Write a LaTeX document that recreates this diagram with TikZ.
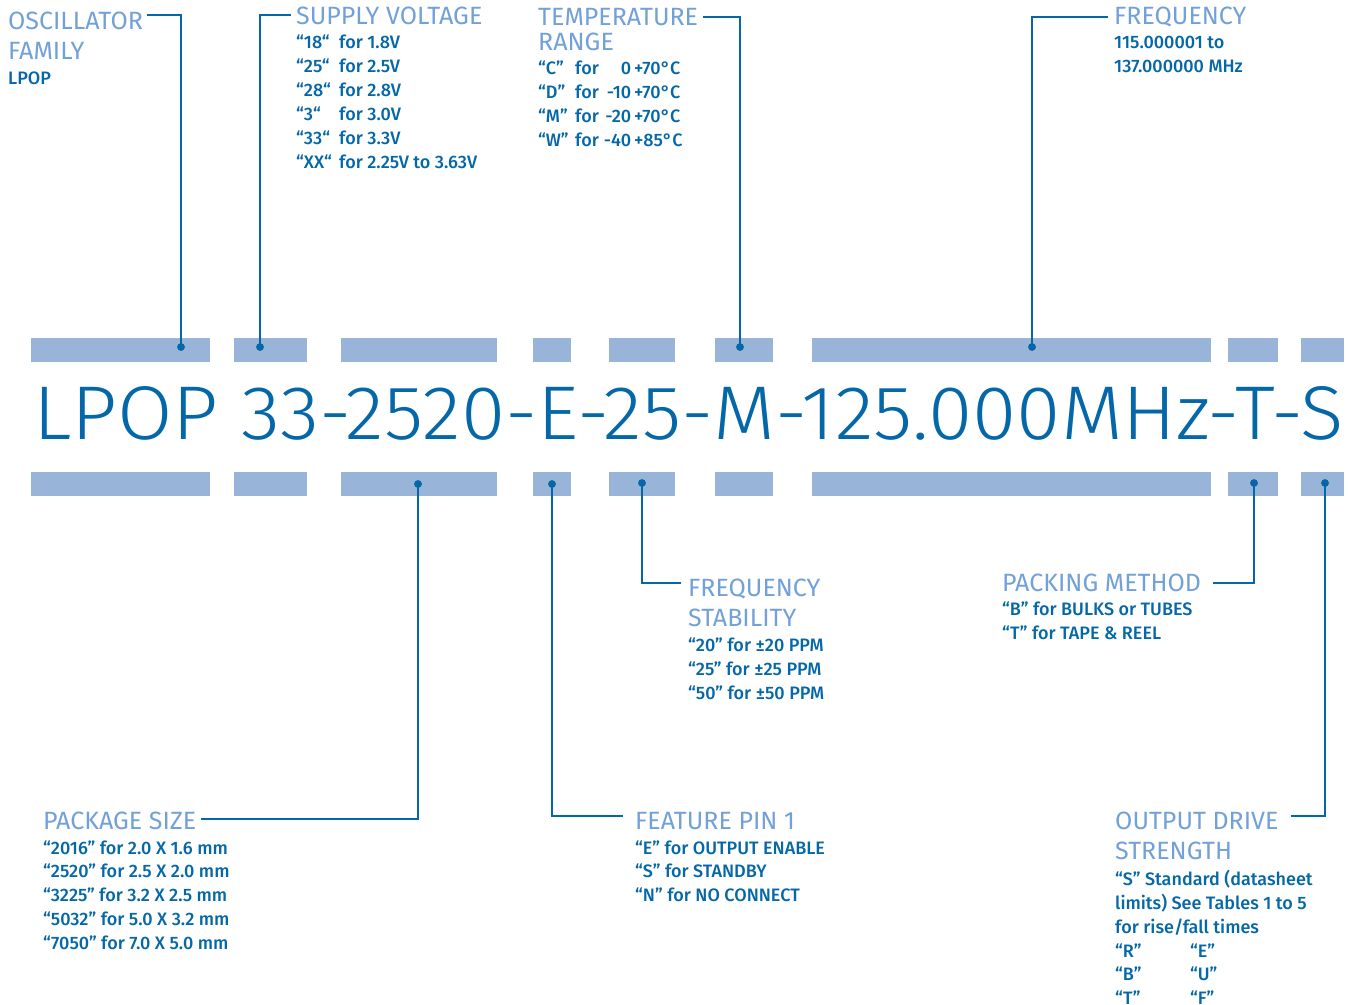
\documentclass[tikz,border=0pt]{standalone}
\usepackage{fontspec}
\setmainfont{Fira Sans}
\newfontfamily\hdf{Fira Sans}
\IfFontExistsTF{Fira Sans Medium}{\newfontfamily\bdf{Fira Sans Medium}}{\newfontfamily\bdf{Fira Sans}}
\IfFontExistsTF{Fira Sans Light}{\newfontfamily\codef{Fira Sans Light}}{\newfontfamily\codef{Fira Sans}}
\definecolor{dk}{HTML}{0467A8}
\definecolor{hdc}{HTML}{72A0D8}
\definecolor{barc}{HTML}{98B4D8}
\begin{document}
\begin{tikzpicture}[x=1pt,y=-1pt,
  hd/.style={font=\hdf\fontsize{25}{30}\selectfont, text=hdc, inner sep=0pt, anchor=base west},
  bd/.style={font=\bdf\fontsize{18}{22}\selectfont, text=dk, inner sep=0pt, anchor=base west},
  conn/.style={draw=dk, line width=2.6pt},
  dot/.style={circle, fill=dk, inner sep=0pt, minimum size=7.5pt}]
\useasboundingbox[fill=white] (0,0) rectangle (1348,1004);
% bars
\foreach \a/\b in {31/210,234/307,341/497,533/571,609/675,715/773,812/1211,1228/1278,1301/1344}{
  \fill[barc] (\a,338) rectangle (\b,362);
  \fill[barc] (\a,472) rectangle (\b,496);
}
% code
\node[inner sep=0pt, anchor=base west, text=dk] (code) at (33,439)
  {\resizebox{1310pt}{53pt}{\codef LPOP 33-2520-E-25-M-125.000MHz-T-S}};
% top left: oscillator family
\node[hd] (oscT) at (8,29) {OSCILLATOR};
\node[hd] (oscT2) at (8,59.5) {FAMILY};
\node[bd] (oscB1) at (8,84.5) {LPOP};
% supply voltage
\node[hd] (supT) at (296,24.5) {SUPPLY VOLTAGE};
\node[bd] (supB1) at (296,48.5) {\makebox[43pt][l]{“18“}for 1.8V};
\node[bd] (supB2) at (296,72.5) {\makebox[43pt][l]{“25“}for 2.5V};
\node[bd] (supB3) at (296,96.5) {\makebox[43pt][l]{“28“}for 2.8V};
\node[bd] (supB4) at (296,120.5) {\makebox[43pt][l]{“3“}for 3.0V};
\node[bd] (supB5) at (296,144.5) {\makebox[43pt][l]{“33“}for 3.3V};
\node[bd] (supB6) at (296,168) {\makebox[43pt][l]{“XX“}for 2.25V to 3.63V};
% temperature
\node[hd] (tmpT) at (538,25) {TEMPERATURE};
\node[hd] (tmpT2) at (538,50) {RANGE};
\node[bd] (tmpB1) at (538,74) {\makebox[37pt][l]{“C”}\makebox[56pt][l]{for\hfill 0}\,+70°C};
\node[bd] (tmpB2) at (538,98) {\makebox[37pt][l]{“D”}\makebox[56pt][l]{for\hfill -10}\,+70°C};
\node[bd] (tmpB3) at (538,122) {\makebox[37pt][l]{“M”}\makebox[56pt][l]{for\hfill -20}\,+70°C};
\node[bd] (tmpB4) at (538,146) {\makebox[37pt][l]{“W”}\makebox[56pt][l]{for\hfill -40}\,+85°C};
% frequency
\node[hd] (frqT) at (1114,24.5) {FREQUENCY};
\node[bd] (frqB1) at (1114,48) {115.000001 to};
\node[bd] (frqB2) at (1114,72) {137.000000 MHz};
% frequency stability
\node[hd] (stbT) at (688,596) {FREQUENCY};
\node[hd] (stbT2) at (688,626.5) {STABILITY};
\node[bd] (stbB1) at (688,651.5) {“20” for ±20 PPM};
\node[bd] (stbB2) at (688,675.5) {“25” for ±25 PPM};
\node[bd] (stbB3) at (688,699) {“50” for ±50 PPM};
% packing method
\node[hd] (pckT) at (1002,591) {PACKING METHOD};
\node[bd] (pckB1) at (1002,615) {“B” for BULKS or TUBES};
\node[bd] (pckB2) at (1002,639.5) {“T” for TAPE \& REEL};
% package size
\node[hd] (pkgT) at (43,829.5) {PACKAGE SIZE};
\node[bd] (pkgB1) at (43,854) {“2016” for 2.0 X 1.6 mm};
\node[bd] (pkgB2) at (43,877.5) {“2520” for 2.5 X 2.0 mm};
\node[bd] (pkgB3) at (43,901.5) {“3225” for 3.2 X 2.5 mm};
\node[bd] (pkgB4) at (43,925.5) {“5032” for 5.0 X 3.2 mm};
\node[bd] (pkgB5) at (43,949.5) {“7050” for 7.0 X 5.0 mm};
% feature pin
\node[hd] (feaT) at (635,829.5) {FEATURE PIN 1};
\node[bd] (feaB1) at (635,854) {“E” for OUTPUT ENABLE};
\node[bd] (feaB2) at (635,877.5) {“S” for STANDBY};
\node[bd] (feaB3) at (635,901.5) {“N” for NO CONNECT};
% output drive
\node[hd] (outT) at (1115,829.5) {OUTPUT DRIVE};
\node[hd] (outT2) at (1115,859.5) {STRENGTH};
\node[bd] (outB1) at (1115,885) {“S” Standard (datasheet};
\node[bd] (outB2) at (1115,909) {limits) See Tables 1 to 5};
\node[bd] (outB3) at (1115,933) {for rise/fall times};
\node[bd] (outB4) at (1115,957) {\makebox[75pt][l]{“R”}“E”};
\node[bd] (outB5) at (1115,980.5) {\makebox[75pt][l]{“B”}“U”};
\node[bd] (outB6) at (1115,1004.5) {\makebox[75pt][l]{“T”}“F”};
% dots and elbows
\node[dot] (oscDot) at (181,347) {};
\node[dot] (supDot) at (260,347) {};
\node[dot] (tmpDot) at (740,347) {};
\node[dot] (frqDot) at (1032,347) {};
\node[dot] (pkgDot) at (418,484) {};
\node[dot] (feaDot) at (552,484) {};
\node[dot] (stbDot) at (642,483) {};
\node[dot] (pckDot) at (1254,483) {};
\node[dot] (outDot) at (1325,483) {};
\coordinate (oscE) at (181,15);
\coordinate (supE) at (260,15);
\coordinate (tmpE) at (740,17);
\coordinate (frqE) at (1032,17);
\coordinate (pkgE) at (418,819);
\coordinate (feaE) at (552,816);
\coordinate (stbE) at (642,583);
\coordinate (pckE) at (1254,583);
\coordinate (outE) at (1325,816);
% connectors
\draw[conn] ([xshift=4pt]oscT.east |- oscE) -- (oscE) -- (oscDot.center);
\draw[conn] ([xshift=-5pt]supT.west |- supE) -- (supE) -- (supDot.center);
\draw[conn] ([xshift=5pt]tmpT.east |- tmpE) -- (tmpE) -- (tmpDot.center);
\draw[conn] ([xshift=-6pt]frqT.west |- frqE) -- (frqE) -- (frqDot.center);
\draw[conn] ([xshift=4pt]pkgT.east |- pkgE) -- (pkgE) -- (pkgDot.center);
\draw[conn] ([xshift=-12pt]feaT.west |- feaE) -- (feaE) -- (feaDot.center);
\draw[conn] ([xshift=-7pt]stbT.west |- stbE) -- (stbE) -- (stbDot.center);
\draw[conn] ([xshift=12pt]pckT.east |- pckE) -- (pckE) -- (pckDot.center);
\draw[conn] ([xshift=12pt]outT.east |- outE) -- (outE) -- (outDot.center);
\foreach \d in {oscDot,supDot,tmpDot,frqDot,pkgDot,feaDot,stbDot,pckDot,outDot}
  \fill[dk] (\d.center) circle[radius=3.75pt];
\end{tikzpicture}
\end{document}
